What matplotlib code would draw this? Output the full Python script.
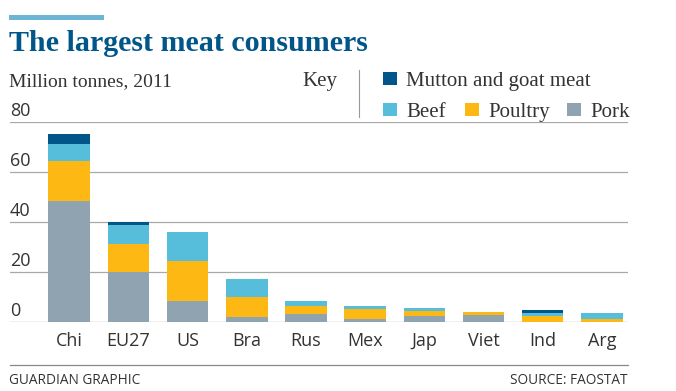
import matplotlib
matplotlib.use("Agg")
import matplotlib.pyplot as plt
from matplotlib.patches import Rectangle
from matplotlib.lines import Line2D

# Million tonnes, 2011
categories = ["Chi", "EU27", "US", "Bra", "Rus", "Mex", "Jap", "Viet", "Ind", "Arg"]
pork = [48.4, 19.9, 8.4, 2.0, 3.2, 1.3, 2.3, 3.0, 0.2, 0.2]
poultry = [16.0, 11.3, 16.1, 8.2, 3.2, 4.0, 2.1, 0.9, 2.2, 1.0]
beef = [6.8, 7.6, 11.4, 7.0, 2.0, 1.2, 1.2, 0.1, 1.4, 2.3]
mutton = [4.0, 1.3, 0.1, 0.1, 0.1, 0.1, 0.0, 0.0, 0.9, 0.1]
y_ticks = [0, 20, 40, 60, 80]

C_MUTTON = "#005689"
C_BEEF = "#56bedb"
C_POULTRY = "#fdb813"
C_PORK = "#8fa3b1"
C_TITLE = "#005689"
C_TEXT = "#333333"
C_GRID = "#a8a8a8"

W, H = 676, 391
fig = plt.figure(figsize=(W / 100, H / 100), dpi=100)


def fx(px):
    return px / W


def fy(py):
    return 1 - py / H


# decorative bar at the top
fig.patches.append(Rectangle((fx(9), fy(20)), fx(95), 5 / H, transform=fig.transFigure,
                             color="#6db5d5", lw=0))

fig.text(fx(9), fy(51), "The largest meat consumers", fontsize=21.6, fontweight="bold",
         family="Liberation Serif", color=C_TITLE, va="baseline")
fig.text(fx(9), fy(86), "Million tonnes, 2011", fontsize=14, family="Liberation Serif",
         color=C_TEXT, va="baseline")
fig.text(fx(302), fy(86), "Key", fontsize=15, family="Liberation Serif",
         color=C_TEXT, va="baseline")
fig.lines.append(Line2D([fx(359), fx(359)], [fy(70), fy(117)], transform=fig.transFigure,
                        color="#999999", lw=0.8))

# key entries
key = [(C_MUTTON, "Mutton and goat meat", 383, 86),
       (C_BEEF, "Beef", 383, 117),
       (C_POULTRY, "Poultry", 465, 117),
       (C_PORK, "Pork", 567, 117)]
for col, lab, x0, base in key:
    fig.patches.append(Rectangle((fx(x0), fy(base - 1)), fx(14), 13 / H,
                                 transform=fig.transFigure, color=col, lw=0))
    fig.text(fx(x0 + 23), fy(base), lab, fontsize=15, family="Liberation Serif",
             color=C_TEXT, va="baseline")

# chart area: x from 10 to 628 px, value 0 at 322 px, 80 at 122 px
ax = fig.add_axes([fx(10), fy(322), fx(618), 200 / H])
x = list(range(len(categories)))
bw = 0.7
b1 = pork
b2 = [a + b for a, b in zip(b1, poultry)]
b3 = [a + b for a, b in zip(b2, beef)]
ax.bar(x, pork, bw, color=C_PORK, zorder=3)
ax.bar(x, poultry, bw, bottom=b1, color=C_POULTRY, zorder=3)
ax.bar(x, beef, bw, bottom=b2, color=C_BEEF, zorder=3)
ax.bar(x, mutton, bw, bottom=b3, color=C_MUTTON, zorder=3)

ax.set_xlim(-1.0, 9.44)
ax.set_ylim(0, 80)
for t in y_ticks:
    ax.axhline(t, color="#888888" if t == 0 else C_GRID, lw=0.9, zorder=1)
    ax.text(-1.0, t + 0.8, str(t), fontsize=13, family="Open Sans", color=C_TEXT,
            ha="left", va="bottom")
for s in ax.spines.values():
    s.set_visible(False)
ax.set_yticks([])
ax.set_xticks(x)
ax.set_xticklabels(categories, fontsize=13, family="Open Sans", color=C_TEXT)
ax.tick_params(axis="x", length=0, pad=7)
ax.patch.set_alpha(0)

# bottom rule and footer
fig.lines.append(Line2D([fx(10), fx(628)], [fy(365), fy(365)], transform=fig.transFigure,
                        color="#888888", lw=0.9))
fig.text(fx(9), fy(384), "GUARDIAN GRAPHIC", fontsize=9.8, family="Open Sans",
         color=C_TEXT, va="baseline")
fig.text(fx(628), fy(384), "SOURCE: FAOSTAT", fontsize=9.8, family="Open Sans",
         color=C_TEXT, va="baseline", ha="right")

fig.savefig("out.png", dpi=100)
